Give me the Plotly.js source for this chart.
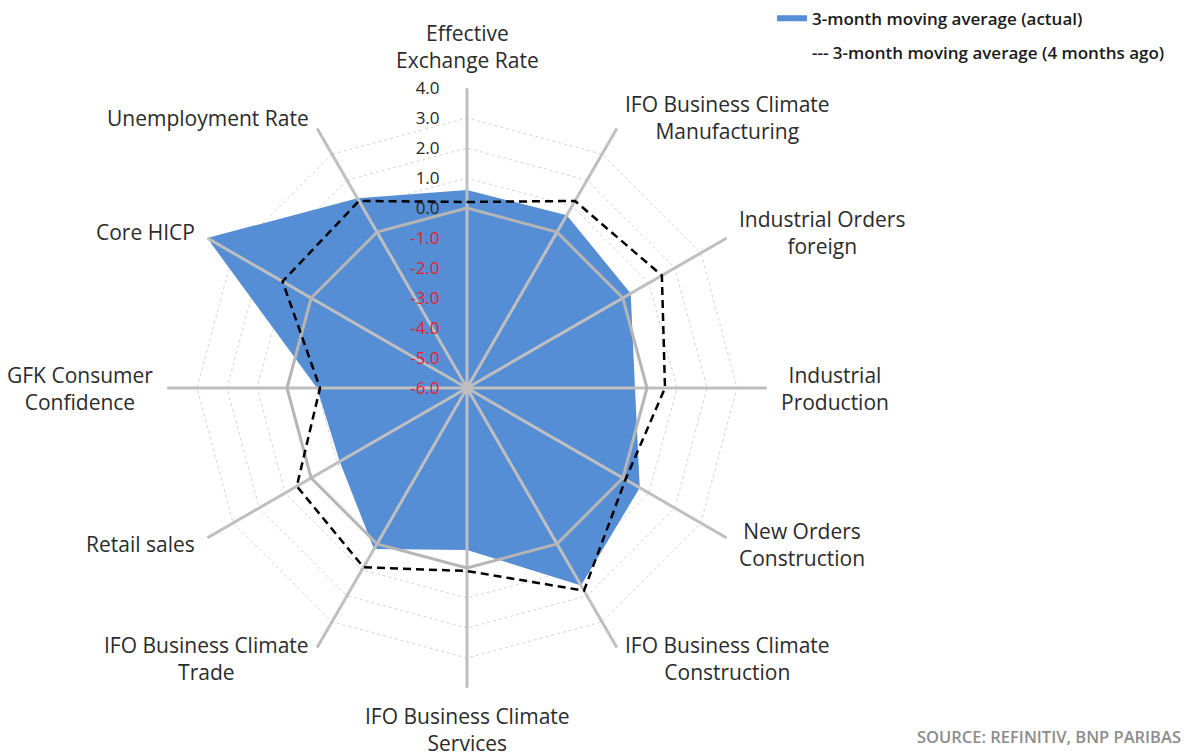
<!DOCTYPE html>
<html>
<head>
<meta charset="utf-8">
<script src="https://cdn.plot.ly/plotly-3.0.1.min.js"></script>
<style>html,body{margin:0;padding:0;background:#fff;}#chart{width:1187px;height:752px;}</style>
</head>
<body>
<div id="chart"></div>
<script>
var categories = [
  'Effective Exchange Rate',
  'IFO Business Climate Manufacturing',
  'Industrial Orders foreign',
  'Industrial Production',
  'New Orders Construction',
  'IFO Business Climate Construction',
  'IFO Business Climate Services',
  'IFO Business Climate Trade',
  'Retail sales',
  'GFK Consumer Confidence',
  'Core HICP',
  'Unemployment Rate'
];
var categoryLabels = [
  'Effective<br>Exchange Rate',
  'IFO Business Climate<br>Manufacturing',
  'Industrial Orders<br>foreign',
  'Industrial<br>Production',
  'New Orders<br>Construction',
  'IFO Business Climate<br>Construction',
  'IFO Business Climate<br>Services',
  'IFO Business Climate<br>Trade',
  'Retail sales',
  'GFK Consumer<br>Confidence',
  'Core HICP',
  'Unemployment Rate'
];
var actual = [0.6, 0.65, 0.3, -0.4, 0.65, 1.6, -0.6, 0.2, -1.1, -1.0, 4.0, 1.3];
var fourMonthsAgo = [0.2, 1.2, 1.5, 0.6, 0.1, 1.8, 0.1, 0.9, 0.55, -1.1, 1.1, 1.2];
var radialTicks = [-6, -5, -4, -3, -2, -1, 0, 1, 2, 3, 4];
var radialMin = -6, radialMax = 4;

var W = 1187, H = 752;
var domX = [167 / W, 767 / W], domY = [64 / H, 664 / H];

function closeLoop(a) { return a.concat([a[0]]); }

var tickText = radialTicks.map(function (v) {
  var s = v.toFixed(1);
  return v < 0 ? '<span style="color:#e8202a">' + s + '</span>' : s;
});

var spokeR = [], spokeT = [];
categories.forEach(function (c) {
  spokeR.push(radialMin, radialMax, null);
  spokeT.push(c, c, null);
});
var zeroR = categories.map(function () { return 0; });

var traces = [
  {
    type: 'scatterpolar', mode: 'none', fill: 'toself',
    fillcolor: '#558ed5',
    r: closeLoop(actual), theta: closeLoop(categories),
    name: '3-month moving average (actual)', legendgroup: 'a', hoverinfo: 'skip'
  },
  {
    type: 'scatterpolar', mode: 'lines',
    r: spokeR, theta: spokeT,
    line: { color: '#bfbfbf', width: 3 },
    showlegend: false, hoverinfo: 'skip'
  },
  {
    type: 'scatterpolar', mode: 'lines',
    r: closeLoop(zeroR), theta: closeLoop(categories),
    line: { color: '#b5b5b5', width: 3 },
    showlegend: false, hoverinfo: 'skip'
  },
  {
    type: 'scatterpolar', mode: 'lines',
    r: closeLoop(fourMonthsAgo), theta: closeLoop(categories),
    line: { color: '#000000', width: 2.5, dash: '8px,5px' },
    showlegend: false, hoverinfo: 'skip'
  },
  {
    type: 'scatterpolar', mode: 'lines',
    r: [null], theta: [null],
    line: { color: 'rgba(0,0,0,0)', width: 0 },
    name: '--- 3-month moving average (4 months ago)', legendgroup: 'b', hoverinfo: 'skip'
  }
];

// category labels placed just outside each polygon vertex
var domWpx = (domX[1] - domX[0]) * W, domHpx = (domY[1] - domY[0]) * H;
var Rpx = Math.min(domWpx, domHpx) / 2;
var cx = (domX[0] + domX[1]) / 2, cy = (domY[0] + domY[1]) / 2;
var pad = 12;
var annotations = categoryLabels.map(function (lab, i) {
  var th = (90 - i * 360 / categories.length) * Math.PI / 180;
  var c = Math.cos(th), s = Math.sin(th);
  return {
    xref: 'paper', yref: 'paper', x: cx, y: cy,
    xshift: (Rpx + pad) * c, yshift: (Rpx + pad) * s,
    xanchor: c > 0.01 ? 'left' : (c < -0.01 ? 'right' : 'center'),
    yanchor: s > 0.99 ? 'bottom' : (s < -0.99 ? 'top' : 'middle'),
    align: 'center', showarrow: false, text: lab,
    font: { family: 'Open Sans', size: 21, color: '#2b2b2b' }
  };
});
annotations.push({
  xref: 'paper', yref: 'paper', x: 0.997, y: 0.003,
  xanchor: 'right', yanchor: 'bottom', showarrow: false,
  text: 'SOURCE: REFINITIV, BNP PARIBAS',
  font: { family: 'Open Sans', size: 16.5, color: '#8c8c8c', weight: 600 }
});

var layout = {
  width: W, height: H,
  margin: { l: 0, r: 0, t: 0, b: 0 },
  paper_bgcolor: '#ffffff',
  showlegend: true,
  legend: {
    x: 0.6504, xanchor: 'left', y: 0.999, yanchor: 'top',
    font: { family: 'Open Sans', size: 17, color: '#1a1a1a', weight: 600 },
    bgcolor: 'rgba(0,0,0,0)', traceorder: 'grouped', tracegroupgap: 9
  },
  polar: {
    domain: { x: domX, y: domY },
    bgcolor: '#ffffff',
    gridshape: 'linear',
    radialaxis: {
      range: [radialMin, radialMax],
      tickvals: radialTicks, ticktext: tickText,
      angle: 90, side: 'counterclockwise', tickangle: 90,
      showline: false,
      ticks: 'outside', ticklen: 21, tickcolor: 'rgba(0,0,0,0)',
      tickfont: { family: 'Open Sans', size: 17, color: '#262626' },
      gridcolor: '#d4d4d4', griddash: 'dot', gridwidth: 1
    },
    angularaxis: {
      type: 'category', categoryarray: categories,
      rotation: 90, direction: 'clockwise',
      showline: false, showgrid: false, showticklabels: false, ticks: ''
    }
  },
  annotations: annotations
};

Plotly.newPlot('chart', traces, layout, { displayModeBar: false, staticPlot: true });
</script>
</body>
</html>
